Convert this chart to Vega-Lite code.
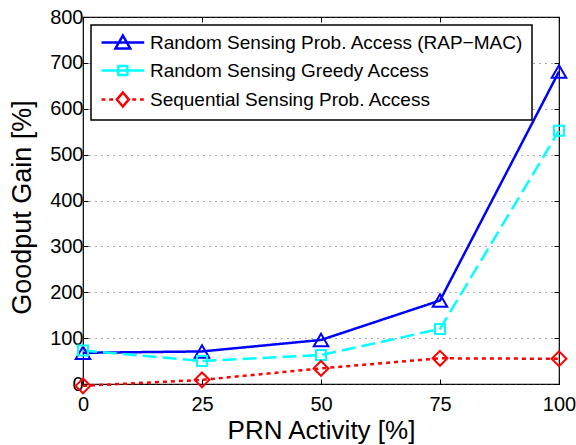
{
  "$schema": "https://vega.github.io/schema/vega-lite/v6.json",
  "width": 476,
  "height": 367,
  "autosize": "none",
  "padding": {"left": 83, "top": 17, "right": 17, "bottom": 61},
  "background": "white",
  "config": {
    "font": "Liberation Sans",
    "view": {"stroke": "black", "strokeWidth": 1.2}
  },
  "data": {
    "values": [
      {"x": 0, "y": 68, "s": "Random Sensing Prob. Access (RAP−MAC)"},
      {"x": 25, "y": 71, "s": "Random Sensing Prob. Access (RAP−MAC)"},
      {"x": 50, "y": 96, "s": "Random Sensing Prob. Access (RAP−MAC)"},
      {"x": 75, "y": 182, "s": "Random Sensing Prob. Access (RAP−MAC)"},
      {"x": 100, "y": 681, "s": "Random Sensing Prob. Access (RAP−MAC)"},
      {"x": 0, "y": 73, "s": "Random Sensing Greedy Access"},
      {"x": 25, "y": 50, "s": "Random Sensing Greedy Access"},
      {"x": 50, "y": 63, "s": "Random Sensing Greedy Access"},
      {"x": 75, "y": 120, "s": "Random Sensing Greedy Access"},
      {"x": 100, "y": 552, "s": "Random Sensing Greedy Access"},
      {"x": 0, "y": -4, "s": "Sequential Sensing Prob. Access"},
      {"x": 25, "y": 9, "s": "Sequential Sensing Prob. Access"},
      {"x": 50, "y": 34, "s": "Sequential Sensing Prob. Access"},
      {"x": 75, "y": 56, "s": "Sequential Sensing Prob. Access"},
      {"x": 100, "y": 55, "s": "Sequential Sensing Prob. Access"}
    ]
  },
  "layer": [
    {
      "mark": {"type": "line", "strokeWidth": 2.5, "clip": false},
      "encoding": {
        "x": {
          "field": "x", "type": "quantitative",
          "scale": {"domain": [0, 100], "nice": false},
          "axis": {
            "values": [0, 25, 50, 75, 100],
            "title": "PRN Activity [%]",
            "titleFontSize": 26, "titleFontWeight": "normal", "titleColor": "black",
            "titleBaseline": "alphabetic", "titleY": 54,
            "labelFontSize": 20, "labelColor": "black", "labelPadding": 15,
            "labelFlush": false, "labelOverlap": false,
            "tickSize": -5, "tickColor": "black", "domain": false, "grid": false
          }
        },
        "y": {
          "field": "y", "type": "quantitative",
          "scale": {"domain": [0, 800], "nice": false, "zero": false},
          "axis": {
            "values": [0, 100, 200, 300, 400, 500, 600, 700, 800],
            "title": "Goodput Gain [%]",
            "titleFontSize": 27, "titleFontWeight": "normal", "titleColor": "black",
            "titleBaseline": "alphabetic", "titleX": -53, "titleY": 190,
            "labelFontSize": 20, "labelColor": "black", "labelPadding": 5,
            "labelFlush": false, "labelOverlap": false,
            "tickSize": -5, "tickColor": "black", "domain": false,
            "grid": true, "gridColor": "#555555", "gridDash": [1, 5], "gridWidth": 1
          }
        },
        "color": {
          "field": "s", "type": "nominal",
          "scale": {
            "domain": ["Random Sensing Prob. Access (RAP−MAC)", "Random Sensing Greedy Access", "Sequential Sensing Prob. Access"],
            "range": ["#0000ff", "#00ffff", "#ff0000"]
          },
          "legend": {
            "title": null,
            "orient": "top-left",
            "offset": 8,
            "padding": 8,
            "strokeColor": "black",
            "fillColor": "white",
            "labelFontSize": 19,
            "labelColor": "black",
            "labelLimit": 600,
            "labelOffset": 32,
            "rowPadding": 6,
            "symbolSize": 196,
            "symbolStrokeWidth": 2.5,
            "encode": {
              "legend": {"update": {"strokeWidth": {"value": 1.5}}},
              "symbols": {
                "update": {
                  "shape": {"signal": "datum.value === 'Random Sensing Greedy Access' ? 'M-1,0H5.1M1.4,-0.65H2.7V0.65H1.4Z' : datum.value === 'Sequential Sensing Prob. Access' ? 'M-1,0H-0.45M0.1,0H0.65M2.05,-1L2.9,0L2.05,1L1.2,0ZM3.4,0H3.95M4.5,0H5.05' : 'M-1,0H5.1M2.05,-1L3.1,0.85L1,0.85Z'"},
                  "fill": {"value": "transparent"},
                  "strokeDash": {"value": [1, 0]}
                }
              }
            }
          }
        },
        "strokeDash": {
          "condition": [
            {"test": "datum.s === 'Random Sensing Greedy Access'", "value": [14, 6]},
            {"test": "datum.s === 'Sequential Sensing Prob. Access'", "value": [4, 4]}
          ],
          "value": [1, 0]
        }
      }
    },
    {
      "mark": {"type": "point", "filled": false, "strokeWidth": 2, "opacity": 1, "clip": false},
      "encoding": {
        "x": {
          "field": "x", "type": "quantitative",
          "scale": {"domain": [0, 100], "nice": false},
          "axis": {"orient": "top", "values": [0, 25, 50, 75, 100], "labels": false, "title": null, "tickSize": -5, "tickColor": "black", "domain": false, "grid": false}
        },
        "y": {
          "field": "y", "type": "quantitative",
          "scale": {"domain": [0, 800], "nice": false, "zero": false},
          "axis": {"orient": "right", "values": [0, 100, 200, 300, 400, 500, 600, 700, 800], "labels": false, "title": null, "tickSize": -5, "tickColor": "black", "domain": false, "grid": false}
        },
        "stroke": {
          "condition": [
            {"test": "datum.s === 'Random Sensing Greedy Access'", "value": "#00ffff"},
            {"test": "datum.s === 'Sequential Sensing Prob. Access'", "value": "#ff0000"}
          ],
          "value": "#0000ff"
        },
        "shape": {
          "condition": [
            {"test": "datum.s === 'Random Sensing Greedy Access'", "value": "square"},
            {"test": "datum.s === 'Sequential Sensing Prob. Access'", "value": "diamond"}
          ],
          "value": "triangle-up"
        },
        "size": {
          "condition": [
            {"test": "datum.s === 'Random Sensing Greedy Access'", "value": 100},
            {"test": "datum.s === 'Sequential Sensing Prob. Access'", "value": 220}
          ],
          "value": 210
        }
      }
    }
  ],
  "resolve": {"axis": {"x": "independent", "y": "independent"}}
}
